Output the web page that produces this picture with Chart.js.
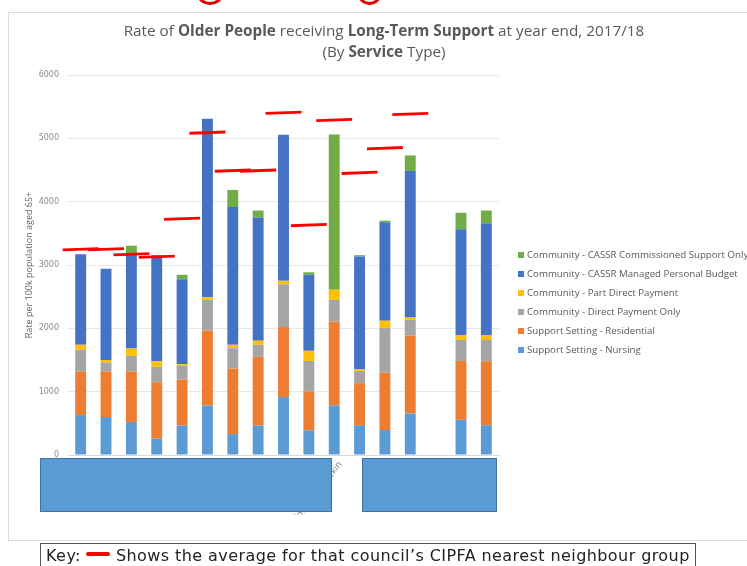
<!DOCTYPE html>
<html>
<head>
<meta charset="utf-8">
<script src="https://cdn.jsdelivr.net/npm/chart.js@4/dist/chart.umd.min.js"></script>
<style>
  html, body { margin: 0; padding: 0; background: #fff; }
  body { width: 747px; height: 566px; position: relative; overflow: hidden; font-family: "Open Sans", sans-serif; }
  .arc { position: absolute; border: 3px solid #e00000; border-radius: 50%; }
  #frame { position: absolute; left: 8px; top: 12px; width: 800px; height: 527px; border: 1px solid #dcdcdc; }
  #chart { position: absolute; left: 0; top: 0; }
  .title { position: absolute; left: 0; width: 768px; text-align: center; color: #595959; font-size: 15.3px; white-space: nowrap; }
  .title b { font-weight: 700; }
  #legend { position: absolute; left: 518px; top: 245px; margin: 0; padding: 0; list-style: none; }
  #legend li { height: 19px; line-height: 19px; font-size: 9.7px; color: #595959; white-space: nowrap; }
  #legend span { display: inline-block; width: 6px; height: 6px; margin-right: 3px; vertical-align: 0px; }
  .mask { position: absolute; top: 458px; height: 52px; background: #5b9bd5; border: 1px solid #41719c; }
  #key { position: absolute; left: 40px; top: 543px; width: 656px; height: 40px; border: 1px solid #555; font-family: "DejaVu Sans", sans-serif; font-size: 16px; letter-spacing: 0.42px; color: #222; padding: 2px 0 0 5px; box-sizing: border-box; white-space: nowrap; }
  #key i { display: inline-block; width: 24px; height: 4px; background: #ff0000; vertical-align: 5px; border-radius: 2px; }
</style>
</head>
<body>
<div class="arc" style="left:195px; top:-25px; width:24px; height:24px;"></div>
<div class="arc" style="left:356px; top:-25px; width:21px; height:24px;"></div>
<div id="frame"></div>
<canvas id="chart" width="747" height="566"></canvas>
<div class="title" style="top:20px;">Rate of <b>Older People</b> receiving <b>Long-Term Support</b> at year end, 2017/18</div>
<div class="title" style="top:41px;">(By <b>Service</b> Type)</div>
<ul id="legend"></ul>
<div class="mask" style="left:40px; width:290px;"></div>
<div class="mask" style="left:362px; width:133px;"></div>
<div id="key">Key: <i></i> Shows the average for that council’s CIPFA nearest neighbour group</div>

<script>
// Councils along the x axis (one empty slot separates the last two)
const councils = ['', '', '', '', '', '', '', '', '', '', 'Telford and Wrekin', '', '', '', '', '', ''];

// Rate per 100k population aged 65+, by service type
const nursing      = [630, 600, 520, 260, 465, 780, 330, 465, 915, 390, 785, 470, 395, 655, null, 555, 470];
const residential  = [690, 720, 800, 890, 725, 1185, 1035, 1085, 1105, 615, 1320, 665, 905, 1230, null, 930, 1010];
const directOnly   = [340, 140, 245, 245, 225, 485, 320, 190, 675, 480, 345, 190, 705, 250, null, 330, 335];
const partDirect   = [80, 40, 115, 85, 20, 40, 55, 65, 55, 160, 160, 30, 115, 35, null, 80, 80];
const managed      = [1430, 1440, 1495, 1675, 1340, 2820, 2175, 1945, 2305, 1200, 0, 1780, 1555, 2315, null, 1670, 1765];
const commissioned = [0, 0, 130, 0, 70, 0, 270, 110, 0, 40, 2450, 20, 25, 245, null, 260, 200];

// CIPFA nearest neighbour group average for each council
const neighbourAverage = [3250, 3250, 3170, 3130, 3730, 5090, 4490, 4490, 5405, 3630, 5290, 4455, 4845, 5385, null, null, null];

// Y axis range and step
const yMax = 6000;
const yStep = 1000;

const series = [
  { label: 'Support Setting - Nursing', data: nursing, color: '#5b9bd5' },
  { label: 'Support Setting - Residential', data: residential, color: '#ed7d31' },
  { label: 'Community - Direct Payment Only', data: directOnly, color: '#a5a5a5' },
  { label: 'Community - Part Direct Payment', data: partDirect, color: '#ffc000' },
  { label: 'Community - CASSR Managed Personal Budget', data: managed, color: '#4472c4' },
  { label: 'Community - CASSR Commissioned Support Only', data: commissioned, color: '#70ad47' }
];

const datasets = [{
  type: 'line',
  label: 'Nearest neighbour average',
  data: neighbourAverage,
  stack: 'average',
  showLine: false,
  pointStyle: 'line',
  pointRadius: 18,
  pointHoverRadius: 18,
  pointRotation: -2,
  borderColor: '#ff0000',
  pointBorderColor: '#ff0000',
  pointBorderWidth: 2.8,
  borderWidth: 2.8,
  order: 0
}].concat(series.map(s => ({
  type: 'bar',
  label: s.label,
  data: s.data,
  backgroundColor: s.color,
  stack: 'services',
  order: 1
})));

const chart = new Chart(document.getElementById('chart'), {
  type: 'bar',
  data: { labels: councils, datasets: datasets },
  options: {
    responsive: false,
    animation: false,
    devicePixelRatio: 1,
    layout: { padding: { left: 8, right: 248, top: 75, bottom: 51 } },
    datasets: { bar: { categoryPercentage: 0.43, barPercentage: 1 } },
    plugins: { legend: { display: false }, tooltip: { enabled: false } },
    scales: {
      x: {
        stacked: true,
        grid: { display: false, drawTicks: false },
        border: { color: '#d9d9d9' },
        ticks: { autoSkip: false, minRotation: 52, maxRotation: 52, padding: 4, labelOffset: 6, color: '#808080', font: { family: 'Open Sans', size: 9.5 } },
        afterFit(scale) { scale.height = 60; }
      },
      y: {
        stacked: true,
        min: 0,
        max: yMax,
        grid: { color: '#e8e8e8', drawTicks: false },
        border: { display: false },
        ticks: { stepSize: yStep, padding: 9, color: '#8c8c8c', font: { family: 'DejaVu Sans', size: 8 }, callback: v => String(v) },
        title: { display: true, text: 'Rate per 100k population aged 65+', color: '#666', font: { family: 'Open Sans', size: 9 }, padding: { top: 16, bottom: 0 } },
        afterFit(scale) { scale.width = 60; }
      }
    }
  }
});

// Legend listed top-down from the top of each stack
const legend = document.getElementById('legend');
chart.data.datasets.filter(d => d.type === 'bar').slice().reverse().forEach(d => {
  const li = document.createElement('li');
  const sw = document.createElement('span');
  sw.style.background = d.backgroundColor;
  li.appendChild(sw);
  li.appendChild(document.createTextNode(d.label));
  legend.appendChild(li);
});
</script>
</body>
</html>
